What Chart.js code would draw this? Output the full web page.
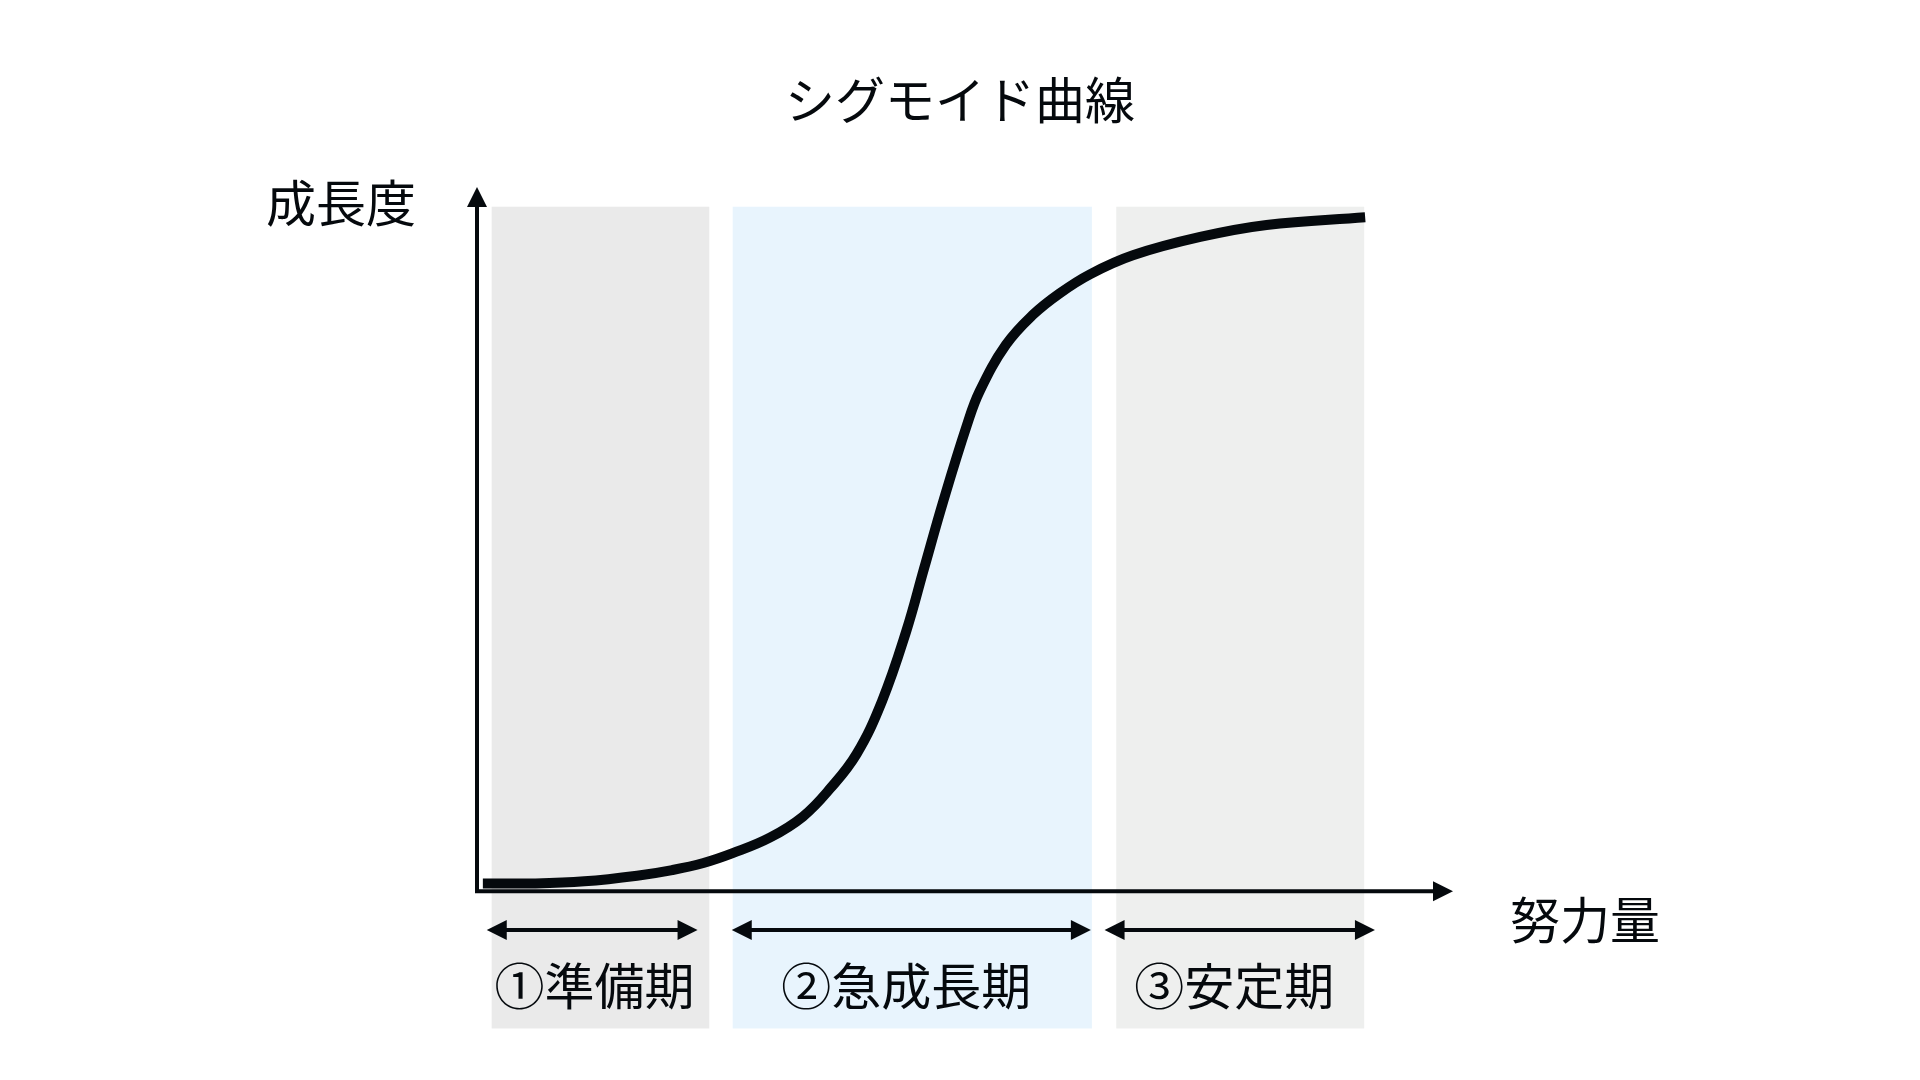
<!DOCTYPE html>
<html>
<head>
<meta charset="utf-8">
<title>シグモイド曲線</title>
<script src="https://cdn.jsdelivr.net/npm/chart.js@4.4.1/dist/chart.umd.min.js"></script>
<style>
  html, body { margin: 0; padding: 0; background: #fff; }
  canvas { display: block; }
</style>
</head>
<body>
<canvas id="myChart" width="1920" height="1080"></canvas>
<script>
// sigmoid curve (effort -> growth)
const effort = [0.6, 6.0, 11.0, 16.4, 20.0, 23.2, 26.2, 30.0, 33.4, 36.2, 38.9, 41.5, 44.0,
                45.8, 47.8, 50.2, 51.5, 54.2, 57.0, 59.7, 62.8, 67.2, 74.1, 80.9, 91.0];
const growth = [1.1, 1.1, 1.4, 2.2, 3.0, 4.0, 5.4, 7.6, 10.6, 14.6, 19.5, 27.0, 37.0,
                45.8, 55.5, 66.2, 71.0, 77.6, 81.9, 84.9, 87.6, 90.3, 92.9, 94.6, 95.7];

// phases
const phaseLabels = ['①準備期', '②急成長期', '③安定期'];
const phaseStart = [1.5, 26.2, 65.5];
const phaseEnd = [23.8, 63.0, 90.9];
const arrowFrom = [1.0, 26.1, 64.3];
const arrowTo = [22.6, 62.9, 92.0];

const titleText = 'シグモイド曲線';
const yLabel = '成長度';
const xLabel = '努力量';

const font = '"Noto Sans CJK JP", "Noto Sans", sans-serif';
const bandColors = ['#eaeaea', '#e8f4fd', '#eeefee'];
const ink = '#05090d';

function head(ctx, x, y, dir) {
  // dir: 'up' | 'right' | 'left'
  ctx.beginPath();
  if (dir === 'up') {
    ctx.moveTo(x, y); ctx.lineTo(x - 10, y + 20); ctx.lineTo(x + 10, y + 20);
  } else if (dir === 'right') {
    ctx.moveTo(x, y); ctx.lineTo(x - 20, y - 10); ctx.lineTo(x - 20, y + 10);
  } else {
    ctx.moveTo(x, y); ctx.lineTo(x + 20, y - 10); ctx.lineTo(x + 20, y + 10);
  }
  ctx.closePath();
  ctx.fill();
}

const diagram = {
  id: 'diagram',
  beforeDatasetsDraw(chart) {
    const { ctx, scales: { x, y } } = chart;
    ctx.save();
    const top = y.getPixelForValue(97.2);
    const bottom = y.getPixelForValue(-19.5);
    phaseStart.forEach((s, i) => {
      const l = x.getPixelForValue(s);
      const r = x.getPixelForValue(phaseEnd[i]);
      ctx.fillStyle = bandColors[i];
      ctx.fillRect(l, top, r - l, bottom - top);
    });

    // axes
    const x0 = x.getPixelForValue(0);
    const y0 = y.getPixelForValue(0);
    const xTip = x.getPixelForValue(100);
    const yTip = y.getPixelForValue(100);
    ctx.fillStyle = ink;
    ctx.strokeStyle = ink;
    ctx.lineWidth = 4;
    ctx.beginPath();
    ctx.moveTo(x0, y0 + 2);
    ctx.lineTo(x0, yTip + 18);
    ctx.moveTo(x0 - 2, y0);
    ctx.lineTo(xTip - 18, y0);
    ctx.stroke();
    head(ctx, x0, yTip, 'up');
    head(ctx, xTip, y0, 'right');

    // phase arrows
    const ay = y.getPixelForValue(-5.5);
    arrowFrom.forEach((f, i) => {
      const a = x.getPixelForValue(f);
      const b = x.getPixelForValue(arrowTo[i]);
      ctx.beginPath();
      ctx.moveTo(a + 18, ay);
      ctx.lineTo(b - 18, ay);
      ctx.stroke();
      head(ctx, a, ay, 'left');
      head(ctx, b, ay, 'right');
    });

    // texts
    ctx.textAlign = 'center';
    ctx.textBaseline = 'middle';
    ctx.font = '50px ' + font;
    const ly = y.getPixelForValue(-13.5);
    phaseLabels.forEach((t, i) => {
      const cx = x.getPixelForValue((phaseStart[i] + phaseEnd[i]) / 2) - 6;
      ctx.fillText(t, cx, ly);
    });
    ctx.fillText(titleText, 960, 100);
    ctx.fillText(yLabel, 341, 203);
    ctx.fillText(xLabel, 1585, 920);
    ctx.restore();
  }
};

const ctx = document.getElementById('myChart').getContext('2d');
const chart = new Chart(ctx, {
  type: 'line',
  data: {
    datasets: [{
      data: effort.map((e, i) => ({ x: e, y: growth[i] })),
      borderColor: ink,
      borderWidth: 10,
      pointRadius: 0,
      tension: 0.4,
      fill: false
    }]
  },
  options: {
    responsive: false,
    animation: false,
    layout: { padding: { left: 477, right: 467, top: 187, bottom: 48 } },
    scales: {
      x: { type: 'linear', min: 0, max: 100, display: false },
      y: { min: -20, max: 100, display: false }
    },
    plugins: {
      legend: { display: false },
      tooltip: { enabled: false }
    }
  },
  plugins: [diagram]
});
</script>
</body>
</html>
